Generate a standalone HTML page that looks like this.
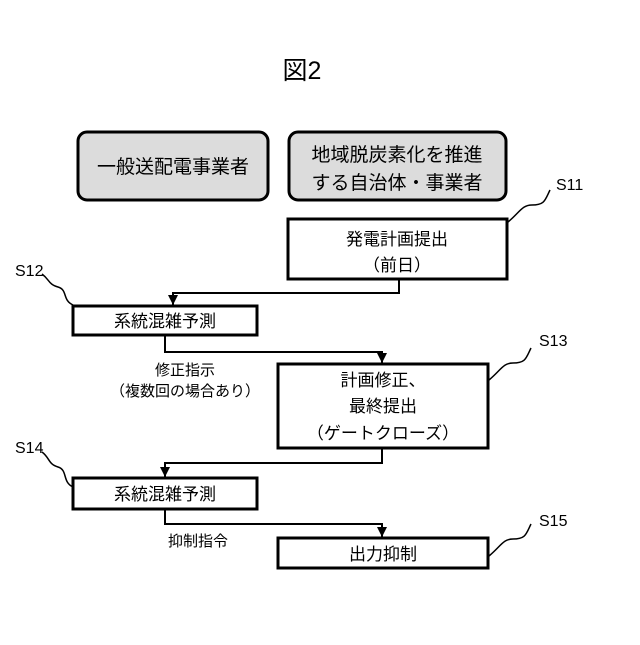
<!DOCTYPE html>
<html><head><meta charset="utf-8"><style>
body{margin:0;background:#fff;}
svg text{font-family:"Liberation Sans","Noto Sans CJK JP",sans-serif;fill:#000;}
</style></head><body>
<svg width="640" height="640" viewBox="0 0 640 640" xmlns="http://www.w3.org/2000/svg">
<defs><marker id="a" markerWidth="10" markerHeight="10" refX="10" refY="5" orient="auto" markerUnits="userSpaceOnUse"><path d="M0,0 L10,5 L0,10 z" fill="#000"/></marker></defs>
<text x="302" y="79" font-size="25" text-anchor="middle">図2</text>
<rect x="78" y="132" width="190" height="68" rx="9" fill="#dcdcdc" stroke="#000" stroke-width="3"/>
<text x="173" y="173" font-size="19" text-anchor="middle">一般送配電事業者</text>
<rect x="289" y="132" width="217" height="68" rx="9" fill="#dcdcdc" stroke="#000" stroke-width="3"/>
<text x="397" y="161" font-size="19" text-anchor="middle">地域脱炭素化を推進</text>
<text x="397" y="189" font-size="19" text-anchor="middle">する自治体・事業者</text>
<g fill="#fff" stroke="#000" stroke-width="3">
<rect x="288" y="219" width="219" height="60"/>
<rect x="73" y="306" width="184" height="29"/>
<rect x="278" y="364" width="210" height="84"/>
<rect x="73" y="478" width="184" height="31"/>
<rect x="278" y="538" width="210" height="30"/>
</g>
<g font-size="17" text-anchor="middle">
<text x="397" y="245">発電計画提出</text>
<text x="397" y="271">（前日）</text>
<text x="165" y="327">系統混雑予測</text>
<text x="383" y="386">計画修正、</text>
<text x="383" y="412">最終提出</text>
<text x="383" y="439">（ゲートクローズ）</text>
<text x="165" y="500">系統混雑予測</text>
<text x="383" y="560">出力抑制</text>
</g>
<g font-size="15" text-anchor="middle">
<text x="185" y="375">修正指示</text>
<text x="185" y="396">（複数回の場合あり）</text>
<text x="198" y="546">抑制指令</text>
</g>
<g fill="none" stroke="#000" stroke-width="2">
<path d="M399 279 V293 H173 V305" marker-end="url(#a)"/>
<path d="M165 335 V352 H382 V363" marker-end="url(#a)"/>
<path d="M382 448 V463 H165 V477" marker-end="url(#a)"/>
<path d="M165 509 V524 H382 V537" marker-end="url(#a)"/>
<path d="M508 222 C520 212,522 205,532 205 C545 205,545 200,550 190" stroke-width="1.5"/>
<path d="M73 305 C62 300,68 290,58 287 C48 284,50 280,42 274" stroke-width="1.5"/>
<path d="M489 380 C501 370,503 363,513 363 C526 363,526 358,531 348" stroke-width="1.5"/>
<path d="M73 487 C62 482,68 470,58 467 C48 464,50 458,42 452" stroke-width="1.5"/>
<path d="M489 556 C501 546,503 539,513 539 C526 539,526 534,531 524" stroke-width="1.5"/>
</g>
<g font-size="16">
<text x="556" y="190">S11</text>
<text x="15" y="276">S12</text>
<text x="539" y="346">S13</text>
<text x="15" y="453">S14</text>
<text x="539" y="526">S15</text>
</g>
</svg>
</body></html>
